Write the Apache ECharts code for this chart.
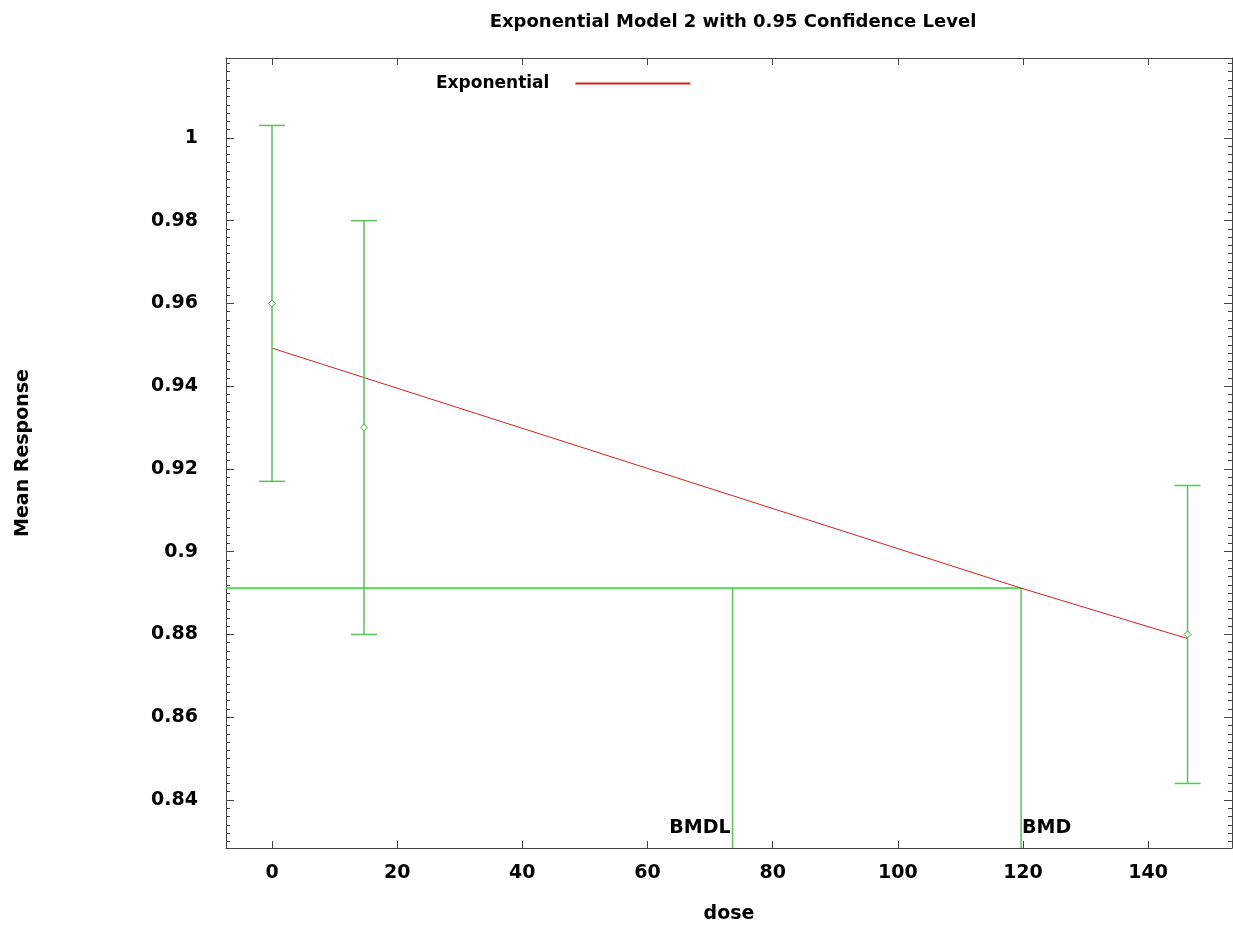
<!DOCTYPE html>
<html>
<head>
<meta charset="utf-8">
<script src="https://cdn.jsdelivr.net/npm/echarts@6/dist/echarts.min.js"></script>
<style>
  html, body { margin: 0; padding: 0; background: #fff; }
  #chart { width: 1233px; height: 929px; }
</style>
</head>
<body>
<div id="chart"></div>
<script>
  // observed data: dose groups, means and 95% limits
  var doses = [0, 14.7, 146.3];
  var means = [0.96, 0.93, 0.88];
  var lowers = [0.917, 0.88, 0.844];
  var uppers = [1.003, 0.98, 0.916];

  // fitted exponential curve
  var modelDose = [0, 119.7, 146.3];
  var modelResp = [0.9492, 0.8912, 0.879];

  // benchmark dose markers
  var bmdLabels = ['BMDL', 'BMD'];
  var bmdDoses = [73.6, 119.7];
  var bmdResp = 0.8912;

  var xMin = -7.35, xMax = 153.4;
  var yMin = 0.8284, yMax = 1.0193;

  var font = 'DejaVu Sans';
  var axisColor = '#444';
  var barColor = '#5cbf5c';

  var chart = echarts.init(document.getElementById('chart'));

  var xAxisBase = {
    type: 'value', min: xMin, max: xMax, splitNumber: 8,
    axisLine: { show: true, onZero: false, lineStyle: { color: axisColor, width: 1 } },
    axisTick: { show: true, inside: true, length: 7, lineStyle: { color: axisColor } },
    splitLine: { show: false }
  };
  var yAxisBase = {
    type: 'value', min: yMin, max: yMax, splitNumber: 10,
    axisLine: { show: true, onZero: false, lineStyle: { color: axisColor, width: 1 } },
    axisTick: { show: true, inside: true, length: 8, lineStyle: { color: axisColor } },
    minorTick: { show: true, splitNumber: 10, length: 4, lineStyle: { color: axisColor } },
    splitLine: { show: false }
  };

  chart.setOption({
    backgroundColor: '#fff',
    animation: false,
    title: {
      text: 'Exponential Model 2 with 0.95 Confidence Level',
      left: 728, top: 8, textAlign: 'center',
      textStyle: { fontFamily: font, fontSize: 18, fontWeight: 'bold', color: '#000' }
    },
    legend: {
      data: [{ name: 'Exponential', icon: 'rect' }],
      left: 431, top: 70,
      align: 'right',
      itemWidth: 115, itemHeight: 2,
      textStyle: { fontFamily: font, fontSize: 17, fontWeight: 'bold', color: '#000', padding: [0, 21, 0, 0] }
    },
    grid: { left: 226, right: 1, top: 58, bottom: 81 },
    xAxis: [
      Object.assign({}, xAxisBase, {
        position: 'bottom',
        name: 'dose', nameLocation: 'middle', nameGap: 57,
        nameTextStyle: { fontFamily: font, fontSize: 19, fontWeight: 'bold', color: '#000' },
        axisLabel: {
          margin: 16, showMinLabel: false, showMaxLabel: false,
          fontFamily: font, fontSize: 19, fontWeight: 'bold', color: '#000'
        }
      }),
      Object.assign({}, xAxisBase, { position: 'top', axisLabel: { show: false } })
    ],
    yAxis: [
      Object.assign({}, yAxisBase, {
        position: 'left',
        name: 'Mean Response', nameLocation: 'middle', nameGap: 193, nameRotate: 90,
        nameTextStyle: { fontFamily: font, fontSize: 19, fontWeight: 'bold', color: '#000' },
        axisLabel: {
          margin: 28, showMinLabel: false, showMaxLabel: false,
          fontFamily: font, fontSize: 19, fontWeight: 'bold', color: '#000'
        }
      }),
      Object.assign({}, yAxisBase, { position: 'right', axisLabel: { show: false } })
    ],
    series: [
      {
        name: 'Exponential',
        type: 'line',
        symbol: 'none',
        color: '#d42020',
        lineStyle: { color: '#d42020', width: 1 },
        data: modelDose.map(function (d, i) { return [d, modelResp[i]]; }),
        z: 3
      },
      {
        name: 'data',
        type: 'custom',
        clip: true,
        data: doses.map(function (d, i) { return [d, means[i], lowers[i], uppers[i]]; }),
        renderItem: function (params, api) {
          var m = api.coord([api.value(0), api.value(1)]);
          var lo = api.coord([api.value(0), api.value(2)]);
          var hi = api.coord([api.value(0), api.value(3)]);
          var cap = 13, r = 3.5;
          var style = { stroke: barColor, lineWidth: 1.5, fill: null };
          var capStyle = { stroke: params.dataIndex === 2 ? '#3ddc3d' : barColor, lineWidth: 1.5 };
          return {
            type: 'group',
            children: [
              { type: 'line', shape: { x1: lo[0], y1: lo[1], x2: hi[0], y2: hi[1] }, style: style },
              { type: 'line', shape: { x1: lo[0] - cap, y1: lo[1], x2: lo[0] + cap, y2: lo[1] }, style: capStyle },
              { type: 'line', shape: { x1: hi[0] - cap, y1: hi[1], x2: hi[0] + cap, y2: hi[1] }, style: capStyle },
              {
                type: 'polygon',
                shape: { points: [[m[0], m[1] - r], [m[0] + r, m[1]], [m[0], m[1] + r], [m[0] - r, m[1]]] },
                style: { stroke: '#3cb83c', lineWidth: 1, fill: '#fff' }
              }
            ]
          };
        },
        z: 4
      },
      {
        name: 'bmd',
        type: 'custom',
        clip: true,
        data: bmdDoses.map(function (d, i) { return [d, bmdResp, bmdLabels[i]]; }),
        renderItem: function (params, api) {
          var top = api.coord([api.value(0), api.value(1)]);
          var bottom = api.coord([api.value(0), yMin]);
          var children = [
            { type: 'line', shape: { x1: top[0], y1: top[1], x2: bottom[0], y2: bottom[1] },
              style: { stroke: barColor, lineWidth: 1.5 } }
          ];
          var isBmdl = params.dataIndex === 0;
          children.push({
            type: 'text',
            style: {
              text: bmdLabels[params.dataIndex],
              x: isBmdl ? top[0] - 2 : top[0] + 1,
              y: bottom[1] - 20,
              align: isBmdl ? 'right' : 'left',
              verticalAlign: 'middle',
              fontFamily: font, fontSize: 19, fontWeight: 'bold', fill: '#000'
            }
          });
          if (!isBmdl) {
            var left = api.coord([xMin, api.value(1)]);
            children.push({ type: 'line', shape: { x1: left[0], y1: left[1], x2: top[0], y2: top[1] },
              style: { stroke: '#22dd22', lineWidth: 1.5 } });
          }
          return { type: 'group', children: children };
        },
        z: 2
      }
    ]
  });
</script>
</body>
</html>
